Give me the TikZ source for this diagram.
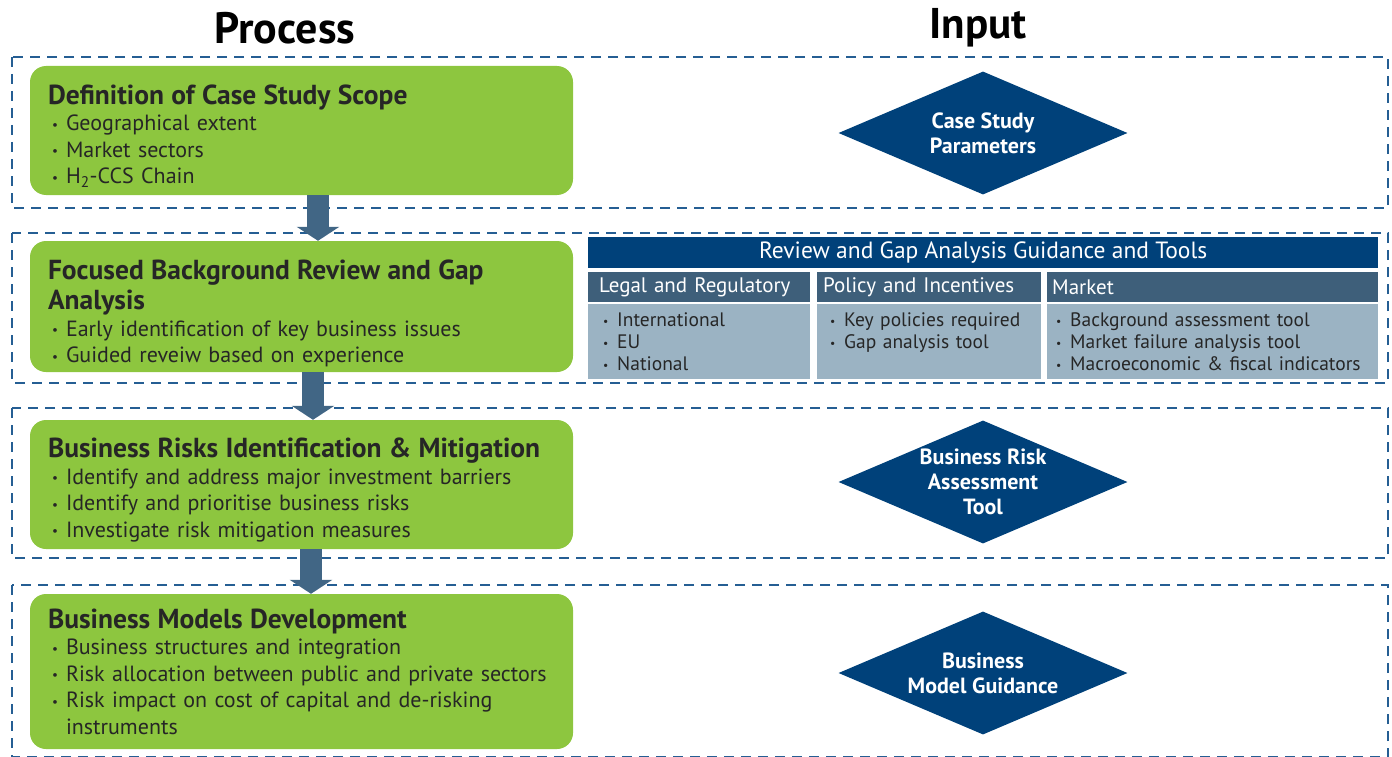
\documentclass[tikz,border=0pt]{standalone}
\usepackage{fontspec}
\setmainfont{PT Sans}
\usetikzlibrary{arrows.meta,shapes.geometric,positioning}

\definecolor{procgreen}{HTML}{8DC63F}
\definecolor{deepblue}{HTML}{00417A}
\definecolor{flowblue}{HTML}{416685}
\definecolor{colhead}{HTML}{3E5F7A}
\definecolor{colbody}{HTML}{9BB3C3}
\definecolor{dashblue}{HTML}{255E93}

\newcommand{\steptitle}[1]{{\bfseries\fontsize{27.5}{30}\selectfont #1\par}}
\newcommand{\dotitem}{\hspace*{4pt}\makebox[14pt][l]{\raisebox{1.5pt}{\scalebox{0.6}{\textbullet}}}}
\newcommand{\tabitem}{\makebox[14pt][l]{\raisebox{1.5pt}{\scalebox{0.6}{\textbullet}}}}

\begin{document}
\begin{tikzpicture}[x=1pt,y=-1pt,
    stage/.style={draw=dashblue,line width=2.2pt,dash pattern=on 10pt off 7pt},
    procbox/.style={rectangle,rounded corners=16pt,fill=procgreen,minimum width=543pt,
        text width=507pt,inner xsep=18pt,align=left,text=black!85,
        font=\fontsize{22}{26.5}\selectfont},
    inputdiam/.style={diamond,fill=deepblue,aspect=2.35,minimum width=289pt,
        minimum height=123pt,inner sep=-16pt,text=white,align=center,
        font=\bfseries\fontsize{22}{25}\selectfont},
    headcell/.style={rectangle,fill=colhead,minimum height=30pt,inner xsep=12pt,
        align=left,text=white,anchor=north west,font=\fontsize{21}{24}\selectfont},
    bodycell/.style={rectangle,fill=colbody,inner xsep=15pt,inner ysep=9pt,
        text height=14pt,text depth=43pt,align=left,text=black!85,
        font=\fontsize{19.5}{22}\selectfont},
    flow/.style={draw=flowblue,line width=22pt,-{Triangle[width=42pt,length=14pt]}}]

  \useasboundingbox (0,0) rectangle (1392,757);

  % column titles
  \node[font=\bfseries\fontsize{44}{48}\selectfont] (proctitle) at (285,28) {Process};
  \node[font=\bfseries\fontsize{43}{48}\selectfont] (inputtitle) at (978,28) {Input};

  % dashed stages
  \draw[stage] (12,57) rectangle (1388,208);
  \draw[stage] (12,233) rectangle (1388,383);
  \draw[stage] (12,408) rectangle (1388,558);
  \draw[stage] (12,585) rectangle (1388,757);

  % process steps
  \node[procbox,minimum height=129pt,text height=31pt] (scope) at (301.5,130.5) {
    \steptitle{Definition of Case Study Scope}
    \dotitem Geographical extent\\
    \dotitem Market sectors\\
    \dotitem H\textsubscript{2}-CCS Chain};
  \node[procbox,minimum height=131pt,text height=34pt] (review) at (301.5,306.5) {
    \steptitle{Focused Background Review and Gap\\Analysis}
    \dotitem Early identification of key business issues\\
    \dotitem Guided reveiw based on experience};
  \node[procbox,minimum height=129pt,text height=31pt] (risks) at (301.5,484.5) {
    \steptitle{Business Risks Identification \& Mitigation}
    \dotitem Identify and address major investment barriers\\
    \dotitem Identify and prioritise business risks\\
    \dotitem Investigate risk mitigation measures};
  \node[procbox,minimum height=155pt] (models) at (301.5,671.5) {
    \steptitle{Business Models Development}
    \dotitem Business structures and integration\\
    \dotitem Risk allocation between public and private sectors\\
    \dotitem Risk impact on cost of capital and de-risking\\
    \hspace*{18pt}instruments};

  \draw[flow] ([xshift=16.5pt]scope.south) -- ([xshift=16.5pt]review.north);
  \draw[flow] ([xshift=11.5pt]review.south) -- ([xshift=11.5pt]risks.north);
  \draw[flow] ([xshift=9.5pt]risks.south) -- ([xshift=9.5pt]models.north);

  % inputs
  \node[inputdiam] (params) at (983,133) {Case Study\\Parameters};
  \node[inputdiam] (risktool) at (983,482) {Business Risk\\Assessment\\Tool};
  \node[inputdiam] (guidance) at (983,673) {Business\\Model Guidance};

  % guidance table
  \node[rectangle,fill=deepblue,anchor=north west,minimum width=790pt,minimum height=31pt,
    text=white,font=\fontsize{23.5}{26}\selectfont] (guide) at (588,237)
    {Review and Gap Analysis Guidance and Tools};
  \node[headcell,inner xsep=11pt,text width=200pt] (legal) at (588,272) {Legal and Regulatory};
  \node[headcell,inner xsep=6pt,text width=212pt] (policy) at (817,272) {Policy and Incentives};
  \node[headcell,inner xsep=5pt,text width=321pt] (market) at (1047,272) {Market};
  \node[bodycell,text width=192pt,below=1pt of legal] (legalbody) {
    \tabitem International\\
    \tabitem EU\\
    \tabitem National};
  \node[bodycell,inner xsep=13pt,text width=198pt,below=1pt of policy] (policybody) {
    \tabitem Key policies required\\
    \tabitem Gap analysis tool};
  \node[bodycell,inner xsep=9pt,text width=313pt,below=1pt of market] (marketbody) {
    \tabitem Background assessment tool\\
    \tabitem Market failure analysis tool\\
    \tabitem Macroeconomic \& fiscal indicators};

\end{tikzpicture}
\end{document}
